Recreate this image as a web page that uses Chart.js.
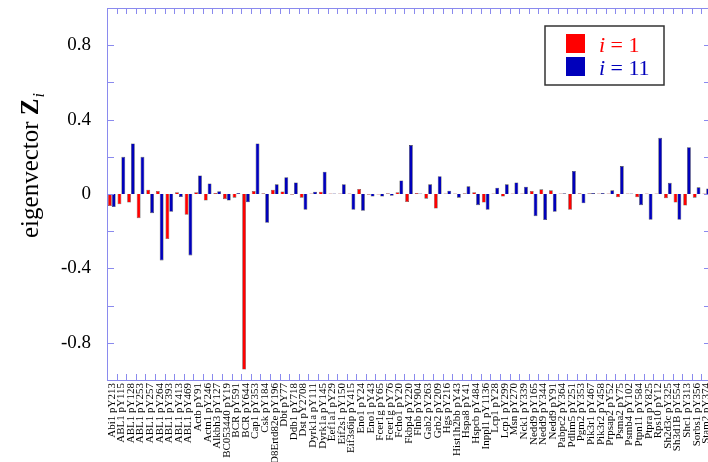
<!DOCTYPE html>
<html>
<head>
<meta charset="utf-8">
<script src="https://cdn.jsdelivr.net/npm/chart.js@4"></script>
<style>
  html, body { margin: 0; padding: 0; background: #fff; overflow: hidden; }
  #wrap { width: 716px; height: 462px; position: relative; }
</style>
</head>
<body>
<div id="wrap"><canvas id="chart"></canvas></div>
<script>
// site labels along the x axis
var sites = [
  'Abi1 pY213', 'ABL1 pY115', 'ABL1 pY128', 'ABL1 pY253', 'ABL1 pY257', 'ABL1 pY264',
  'ABL1 pY393', 'ABL1 pY413', 'ABL1 pY469', 'Actb pY91', 'Actn1 pY246', 'Alkbh3 pY127',
  'BC053440 pY19', 'BCR pY591', 'BCR pY644', 'Cap1 pY353', 'Csk pY184', 'D8Ertd82e pY196',
  'Dbt pY77', 'Ddb1 pY718', 'Dst pY2708', 'Dyrk1a pY111', 'Dyrk1a pY145', 'Eef1a1 pY29',
  'Eif2s1 pY150', 'Eif3s6ip pY415', 'Eno1 pY24', 'Eno1 pY43', 'Fcer1g pY65', 'Fcer1g pY76',
  'Fcho1 pY20', 'Fkbp4 pY220', 'Flnb pY904', 'Gab2 pY263', 'Grb2 pY209', 'Hgs pY216',
  'Hist1h2bb pY43', 'Hspa8 pY41', 'Hspcb pY484', 'Inppl1 pY1136', 'Lcp1 pY28', 'Lcp1 pY299',
  'Msn pY270', 'Nck1 pY339', 'Nedd9 pY165', 'Nedd9 pY344', 'Nedd9 pY91', 'Pabpc2 pY364',
  'Pdlim5 pY251', 'Pgm2 pY353', 'Pik3r1 pY467', 'Pik3r2 pY458', 'Prpsap2 pY52', 'Psma2 pY75',
  'Psmb4 pY102', 'Ptpn11 pY584', 'Ptpra pY825', 'Rps10 pY12', 'Sh2d3c pY325', 'Sh3d1B pY554',
  'Shc1 pY313', 'Sorbs1 pY356', 'Stam2 pY374'
];

// eigenvector i = 1
var zOne = [
  -0.065, -0.055, -0.046, -0.13, 0.023, 0.016, -0.242, 0.01, -0.112, 0.01, -0.035, 0.005,
  -0.028, -0.02, -0.944, 0.016, 0.004, 0.023, 0.014, -0.004, -0.02, 0.003, 0.012, 0.003,
  0.003, 0.003, 0.027, -0.004, -0.003, 0.004, 0.01, -0.043, 0.005, -0.025, -0.078, 0.003,
  0.003, 0.004, 0.01, -0.046, 0.003, -0.014, 0.003, 0.003, 0.016, 0.025, 0.02, 0.003,
  -0.085, 0.004, 0.004, 0.003, 0.003, -0.018, 0.003, -0.018, 0.003, 0.003, -0.023, -0.046,
  -0.062, -0.02, 0.003
];

// eigenvector i = 11
var zEleven = [
  -0.07, 0.2, 0.272, 0.2, -0.103, -0.357, -0.096, -0.016, -0.33, 0.1, 0.057, 0.015,
  -0.035, 0.005, -0.045, 0.272, -0.155, 0.052, 0.09, 0.062, -0.085, 0.012, 0.12, 0.003,
  0.053, -0.085, -0.09, -0.014, -0.014, -0.01, 0.073, 0.263, 0.003, 0.052, 0.096, 0.018,
  -0.02, 0.041, -0.06, -0.085, 0.034, 0.052, 0.062, 0.039, -0.119, -0.14, -0.096, 0.004,
  0.124, -0.05, 0.005, 0.005, 0.02, 0.15, 0.003, -0.06, -0.139, 0.302, 0.06, -0.139,
  0.252, 0.036, 0.03
];

var yTickValues = [-0.8, -0.4, 0, 0.4, 0.8];
var yMinorStep = 0.2;

var serif = "'Liberation Serif', 'Times New Roman', serif";
var frameColor = '#8a8aee';

// frame with inward ticks, y title and legend box
var decorations = {
  id: 'decorations',
  afterDatasetsDraw: function (chart) {
    var ctx = chart.ctx;
    var a = chart.chartArea;
    var x = chart.scales.x;
    var y = chart.scales.y;
    ctx.save();
    ctx.strokeStyle = frameColor;
    ctx.lineWidth = 1;
    ctx.strokeRect(a.left + 0.5, a.top + 0.5, a.right - a.left, a.bottom - a.top);

    ctx.beginPath();
    for (var v = -1; v <= 1.0001; v += yMinorStep) {
      var py = Math.round(y.getPixelForValue(v)) + 0.5;
      ctx.moveTo(a.left, py); ctx.lineTo(a.left + 7, py);
      ctx.moveTo(a.right, py); ctx.lineTo(a.right - 7, py);
    }
    var step = (a.right - a.left) / sites.length;
    for (var i = 1; i < sites.length; i++) {
      var px = Math.round(a.left + i * step) + 0.5;
      ctx.moveTo(px, a.top); ctx.lineTo(px, a.top + 6);
      ctx.moveTo(px, a.bottom); ctx.lineTo(px, a.bottom - 6);
    }
    ctx.stroke();

    // y axis title: eigenvector Z_i
    ctx.fillStyle = '#000';
    ctx.textBaseline = 'alphabetic';
    ctx.translate(38, 238);
    ctx.rotate(-Math.PI / 2);
    ctx.font = '25px ' + serif;
    var t1 = 'eigenvector ';
    ctx.fillText(t1, 0, 0);
    var w1 = ctx.measureText(t1).width;
    ctx.font = 'bold 25px ' + serif;
    ctx.fillText('Z', w1, 0);
    var w2 = ctx.measureText('Z').width;
    ctx.font = 'italic 16px ' + serif;
    ctx.fillText('i', w1 + w2 + 1, 6);
    ctx.restore();

    // legend
    ctx.save();
    ctx.fillStyle = '#fff';
    ctx.fillRect(545, 26, 119, 59);
    ctx.strokeStyle = '#333';
    ctx.lineWidth = 1.5;
    ctx.strokeRect(545, 26, 119, 59);
    var ds = chart.data.datasets;
    var rows = [{ y: 34, base: 52, n: '1' }, { y: 57, base: 75, n: '11' }];
    rows.forEach(function (r, k) {
      ctx.fillStyle = ds[k].backgroundColor;
      ctx.fillRect(566, r.y, 19, 19);
      ctx.font = 'italic 22px ' + serif;
      ctx.fillText('i', 599, r.base);
      ctx.font = '22px ' + serif;
      ctx.fillText(' = ' + r.n, 605, r.base);
    });
    ctx.restore();
  }
};

new Chart(document.getElementById('chart').getContext('2d'), {
  type: 'bar',
  data: {
    labels: sites,
    datasets: [
      { label: 'i = 1', data: zOne, backgroundColor: '#ff0000', borderColor: '#555', borderWidth: 0.6 },
      { label: 'i = 11', data: zEleven, backgroundColor: '#0000bb', borderColor: '#444', borderWidth: 0.6 }
    ]
  },
  options: {
    responsive: true,
    maintainAspectRatio: false,
    animation: false,
    layout: { padding: { top: 8, right: 5, left: 0, bottom: 0 } },
    plugins: { legend: { display: false }, tooltip: { enabled: false } },
    datasets: { bar: { categoryPercentage: 0.8, barPercentage: 1.0 } },
    scales: {
      x: {
        grid: { display: false, drawTicks: false },
        border: { display: false },
        ticks: {
          autoSkip: false, minRotation: 90, maxRotation: 90, padding: 3,
          color: '#000', font: { family: serif, size: 11 }
        },
        afterFit: function (scale) {
          scale.height = 82;
          scale.paddingLeft = 0; scale.paddingRight = 0;
        }
      },
      y: {
        min: -1, max: 1,
        grid: { display: false, drawTicks: false },
        border: { display: false },
        afterBuildTicks: function (scale) {
          scale.ticks = yTickValues.map(function (v) { return { value: v }; });
        },
        ticks: {
          padding: 16, color: '#000', font: { family: serif, size: 19 },
          callback: function (v) { return v === 0 ? '0' : String(v); }
        },
        afterFit: function (scale) {
          scale.width = 107;
          scale.paddingTop = 0; scale.paddingBottom = 0;
        }
      }
    }
  },
  plugins: [decorations]
});
</script>
</body>
</html>
